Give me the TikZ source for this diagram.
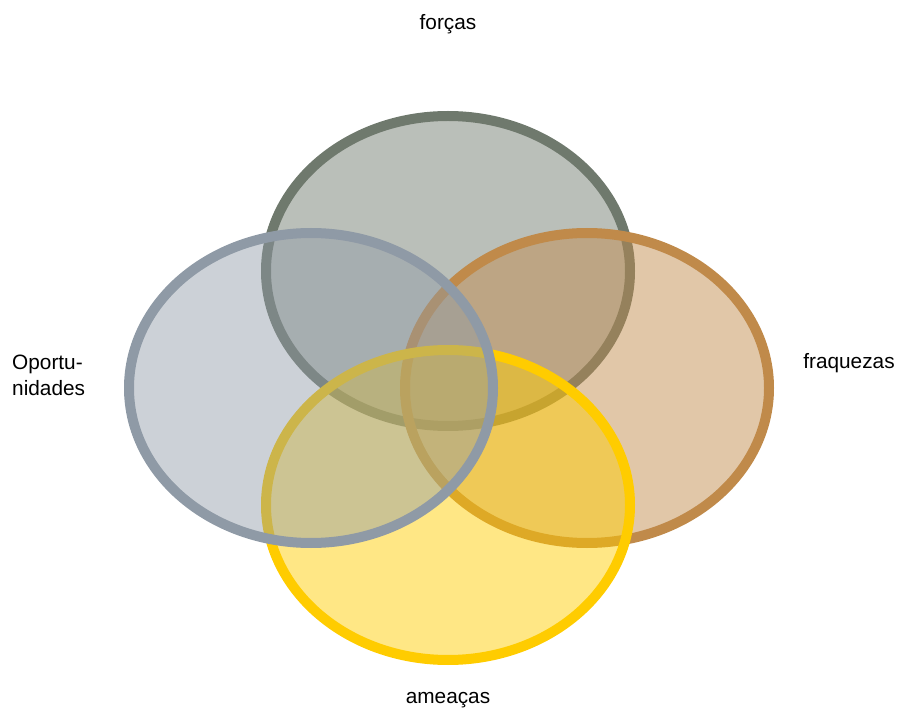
\documentclass[tikz,border=0pt]{standalone}
\usepackage{fontspec}
\setmainfont{Liberation Sans}
\definecolor{cTop}{HTML}{6F796D}
\definecolor{cLeft}{HTML}{8F9AA6}
\definecolor{cRight}{HTML}{C08A4A}
\definecolor{cBot}{HTML}{FFCC00}
\begin{document}
\begin{tikzpicture}[x=1pt,y=-1pt,
  venn/.style={line width=10pt},
  lbl/.style={font=\fontsize{20.8}{26}\selectfont, inner sep=0pt, align=left}]
\useasboundingbox (0,0) rectangle (898,711);
% order: top, right, bottom, left
\fill[cTop, fill opacity=0.48] (448,271) ellipse [x radius=182, y radius=155];
\draw[venn, cTop] (448,271) ellipse [x radius=182, y radius=155];
\fill[cRight, fill opacity=0.48] (587,388) ellipse [x radius=182, y radius=155];
\draw[venn, cRight] (587,388) ellipse [x radius=182, y radius=155];
\fill[cBot, fill opacity=0.48] (448,505) ellipse [x radius=182, y radius=155];
\draw[venn, cBot] (448,505) ellipse [x radius=182, y radius=155];
\fill[cLeft, fill opacity=0.45] (311,388) ellipse [x radius=182, y radius=155];
\draw[venn, cLeft] (311,388) ellipse [x radius=182, y radius=155];
\node[lbl] (forcas) at (448,24) {forças};
\node[lbl, anchor=west] (oport) at (12,375) {Oportu-\\nidades};
\node[lbl] (fraq) at (849,363) {fraquezas};
\node[lbl] (ameacas) at (448,700) {ameaças};
\end{tikzpicture}
\end{document}
